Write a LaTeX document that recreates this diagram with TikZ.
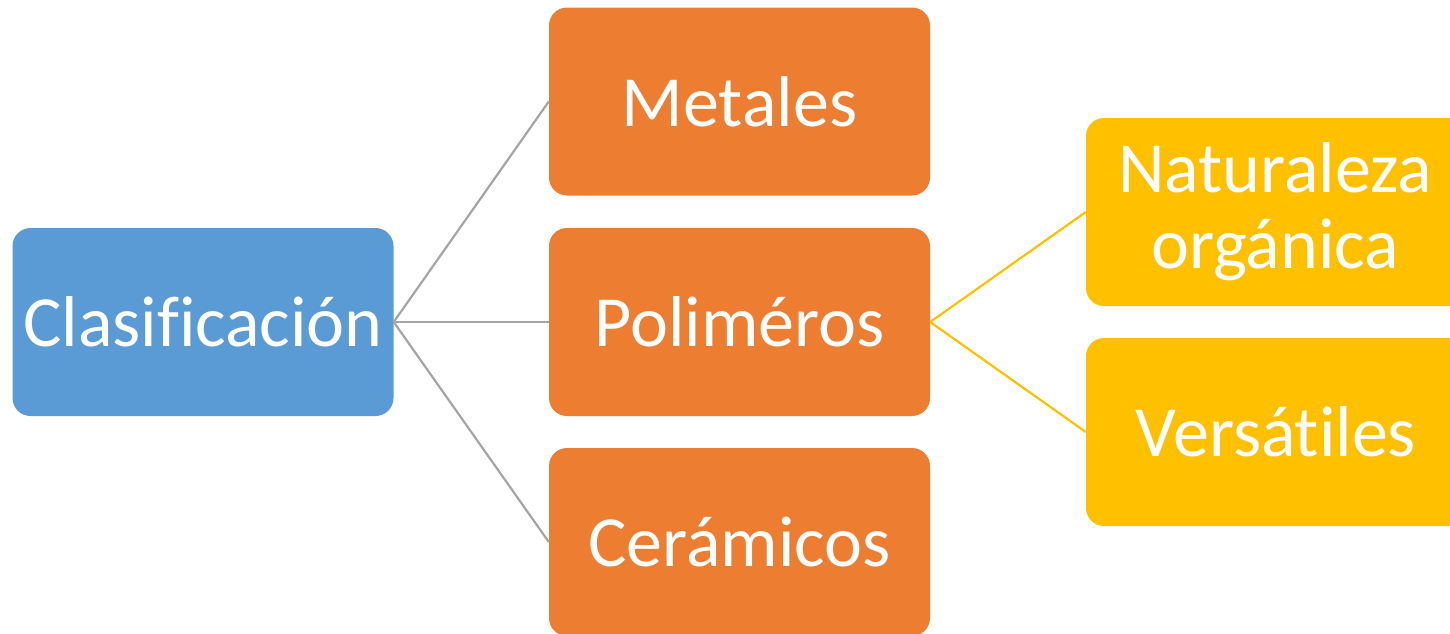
\documentclass[tikz,border=0pt]{standalone}
\usepackage{fontspec}
\setmainfont[Ligatures={NoCommon}]{Carlito}
\definecolor{cblue}{HTML}{5B9BD5}
\definecolor{corange}{HTML}{ED7D31}
\definecolor{cgold}{HTML}{FFC000}
\definecolor{cgray}{HTML}{A5A5A5}
\begin{document}
\begin{tikzpicture}[x=1pt,y=-1pt,
  box/.style={rounded corners=18pt, minimum width=381pt, minimum height=188pt, inner sep=0pt,
    text=white, font=\fontsize{72}{78}\selectfont, align=center},
  gline/.style={draw=cgray, line width=2.2pt},
  yline/.style={draw=cgold, line width=2.2pt}]
\useasboundingbox (0,0) rectangle (1450,633);
\clip (0,0) rectangle (1450,633);
\node[box, fill=cblue] (cls) at (203,322) {Clasificación};
\node[box, fill=corange] (met) at (739.5,101.5) {Metales};
\node[box, fill=corange] (pol) at (739.5,322) {Poliméros};
\node[box, fill=corange] (cer) at (739.5,542) {Cerámicos};
\node[box, fill=cgold, minimum width=400pt] (nat) at (1286,212) {};
\node[box, fill=cgold, minimum width=400pt] (ver) at (1286,432) {};
\node[text=white, font=\fontsize{72}{78}\selectfont, align=center, inner sep=0pt] (natt) at (1275,212) {Naturaleza\\[-2pt]orgánica};
\node[text=white, font=\fontsize{72}{78}\selectfont, inner sep=0pt] (vert) at (1276,432) {Versátiles};
\draw[gline] (cls.east) -- (met.west);
\draw[gline] (cls.east) -- (pol.west);
\draw[gline] (cls.east) -- (cer.west);
\draw[yline] (pol.east) -- (nat.west);
\draw[yline] (pol.east) -- (ver.west);
\end{tikzpicture}
\end{document}
